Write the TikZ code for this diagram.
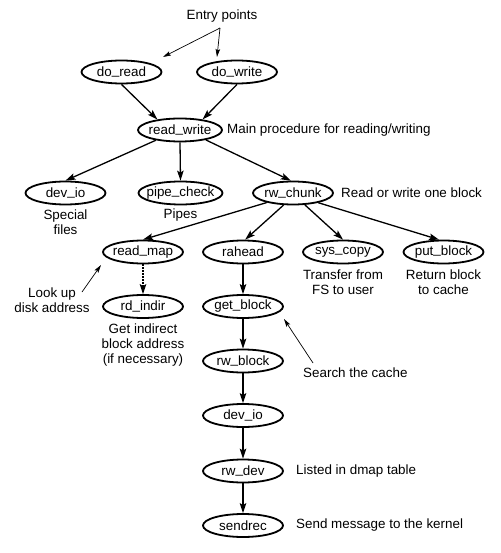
\documentclass[tikz,border=0pt]{standalone}
\usepackage{fontspec}
\setmainfont{Liberation Sans}
\usetikzlibrary{shapes.geometric,arrows.meta}
\newcommand\procname[1]{\makebox[0pt]{#1}}
\newcommand\us{\raisebox{1.8pt}{\_}}
\begin{document}
\begin{tikzpicture}[x=1pt,y=-1pt,
  every node/.style={font=\fontsize{13.4}{15}\selectfont},
  proc/.style={ellipse,draw,line width=1.8pt,minimum width=80pt,minimum height=23pt,inner sep=0pt},
  wide/.style={minimum width=84pt},
  call/.style={line width=1.3pt,-{Stealth[length=10pt,width=6.5pt,inset=2pt]}},
  note/.style={align=center,inner sep=0pt},
  ptr/.style={line width=0.7pt,-{Stealth[length=8pt,width=4.5pt,inset=1.5pt]}},
]
\useasboundingbox (0,0) rectangle (500,553);

% processes
\node[proc] (doread) at (121.5,72) {\procname{do\us read}};
\node[proc] (dowrite) at (237,72) {\procname{do\us write}};
\node[proc,wide] (rw) at (180,130) {\procname{read\us write}};
\node[proc] (devio) at (65.5,193) {\procname{dev\us io}};
\node[proc,wide] (pipe) at (180.5,193) {\procname{pipe\us check}};
\node[proc] (chunk) at (293,193) {\procname{rw\us chunk}};
\node[proc] (rmap) at (143,252) {\procname{read\us map}};
\node[proc] (rahead) at (243,252) {\procname{rahead}};
\node[proc] (syscopy) at (343,252) {\procname{sys\us copy}};
\node[proc] (putblock) at (443.5,252) {\procname{put\us block}};
\node[proc] (rdindir) at (143,306.5) {\procname{rd\us indir}};
\node[proc] (getblock) at (243,306.5) {\procname{get\us block}};
\node[proc] (rwblock) at (243,361) {\procname{rw\us block}};
\node[proc] (devio2) at (243,415.5) {\procname{dev\us io}};
\node[proc] (rwdev) at (243,471) {\procname{rw\us dev}};
\node[proc] (sendrec) at (243,525.5) {\procname{sendrec}};

% notes
\node[note] (entry) at (222,16) {Entry points};
\node[note,anchor=west] (mainproc) at (227,130) {Main procedure for reading/writing};
\node[note] (special) at (65.5,222.5) {Special\\files};
\node[note] (pipes) at (180.5,215) {Pipes};
\node[note,anchor=west] (onebl) at (341,193) {Read or write one block};
\node[note] (transfer) at (343,282.5) {Transfer from\\FS to user};
\node[note] (retblock) at (443.5,282.5) {Return block\\to cache};
\node[note] (lookup) at (52,300) {Look up\\disk address};
\node[note] (indirect) at (143,345) {Get indirect\\block address\\(if necessary)};
\node[note,anchor=west] (search) at (303,373) {Search the cache};
\node[note,anchor=west] (dmap) at (296,471) {Listed in dmap table};
\node[note,anchor=west] (kernel) at (296,525.5) {Send message to the kernel};

% pointer coordinates
\coordinate (ep) at (220,28);
\coordinate (epr) at (163,57);
\coordinate (epw) at (217,57);
\coordinate (lu0) at (82,292);
\coordinate (lu1) at (101,265);
\coordinate (sc0) at (313,363);
\coordinate (sc1) at (284,319);

\draw[ptr] (ep) -- (epr);
\draw[ptr] (ep) -- (epw);
\draw[ptr] (lu0) -- (lu1);
\draw[ptr] (sc0) -- (sc1);

% calls
\draw[call] (doread.south) -- (rw.155);
\draw[call] (dowrite.south) -- (rw.25);
\draw[call] (rw.203) -- (devio.north);
\draw[call] (rw.south) -- (pipe.north);
\draw[call] (rw.339) -- (chunk.100);
\draw[call] (chunk.200) -- (rmap.north);
\draw[call] (chunk.232) -- (rahead.80);
\draw[call] (chunk.315) -- (syscopy.north);
\draw[call] (chunk.339) -- (putblock.110);
\draw[call,dash pattern=on 1.3pt off 1.7pt] (rmap.south) -- (rdindir.north);
\draw[call] (rahead.south) -- (getblock.north);
\draw[call] (getblock.south) -- (rwblock.north);
\draw[call] (rwblock.south) -- (devio2.north);
\draw[call] (devio2.south) -- (rwdev.north);
\draw[call] (rwdev.south) -- (sendrec.north);
\end{tikzpicture}
\end{document}
